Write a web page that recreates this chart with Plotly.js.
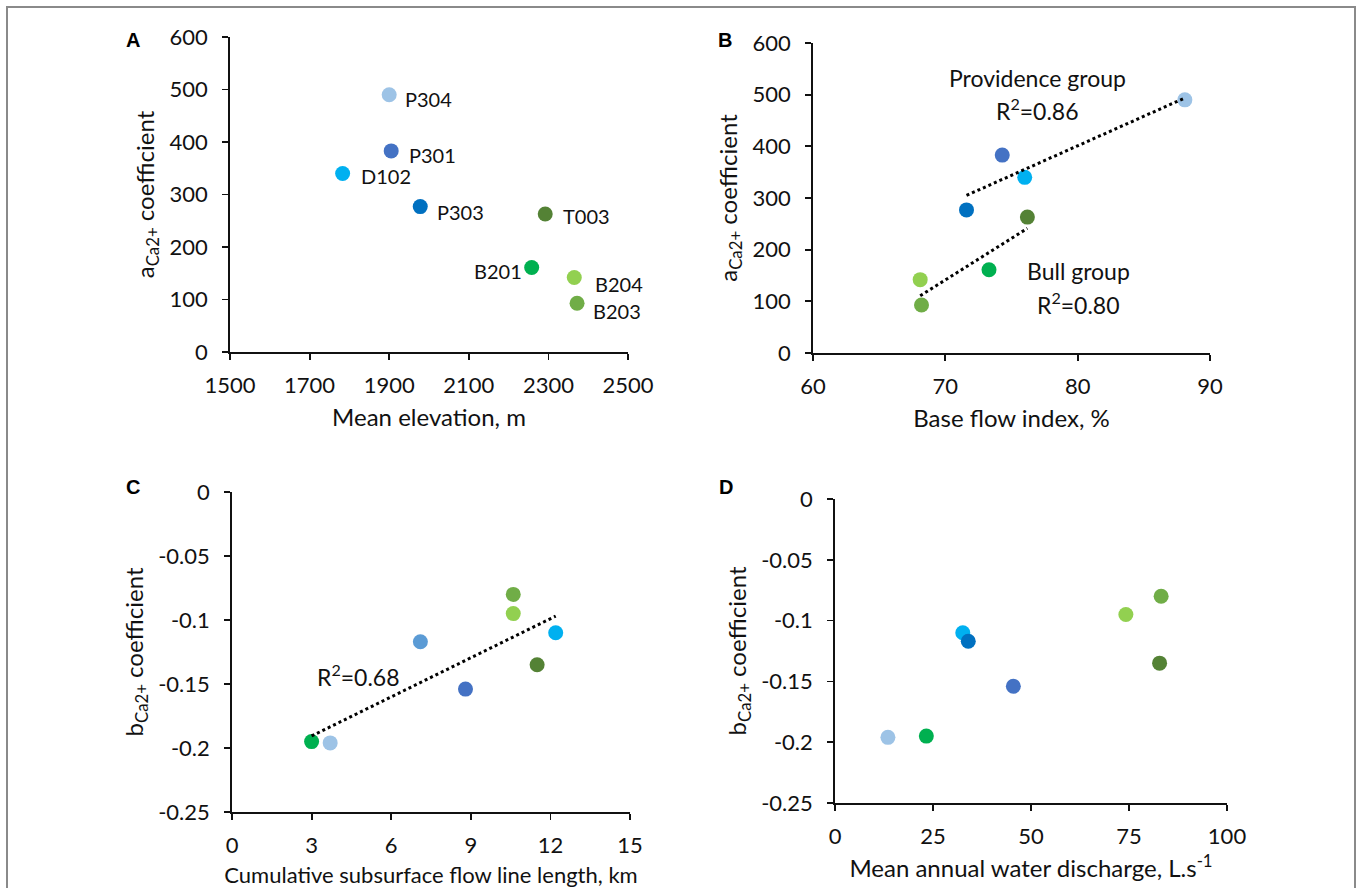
<!DOCTYPE html>
<html>
<head>
<meta charset="utf-8">
<script src="https://cdn.plot.ly/plotly-3.0.1.min.js"></script>
<style>
  html, body { margin: 0; padding: 0; background: #fff; }
  #chart { width: 1358px; height: 888px; }
</style>
</head>
<body>
<div id="chart"></div>
<script>
// Sampling sites and their catchment descriptors
const sites      = ['P304', 'P301', 'D102', 'P303', 'T003', 'B201', 'B204', 'B203'];
const elevation  = [1900, 1905, 1783, 1978, 2292, 2258, 2365, 2372];   // m
const aCoef      = [490, 383, 340, 277, 263, 161, 142, 93];
const baseFlow   = [88.1, 74.3, 76.0, 71.6, 76.2, 73.3, 68.1, 68.2];   // %
const flowLength = [3.7, 8.8, 12.2, 7.1, 11.5, 3.0, 10.6, 10.6];       // km
const bCoef      = [-0.196, -0.154, -0.110, -0.117, -0.135, -0.195, -0.095, -0.080];
const discharge  = [13.5, 45.5, 32.6, 34.0, 82.8, 23.3, 74.2, 83.2];   // L/s

const providence = ['P304', 'P301', 'D102', 'P303'];
const bull       = ['T003', 'B201', 'B204', 'B203'];

const siteColors  = ['#9DC3E6', '#4472C4', '#00B0F0', '#0070C0', '#548235', '#00B050', '#92D050', '#70AD47'];
const siteColorsC = ['#9DC3E6', '#4472C4', '#00B0F0', '#5B9BD5', '#548235', '#00B050', '#92D050', '#70AD47'];

const aTicks = [0, 100, 200, 300, 400, 500, 600];
const bTicks = [0, -0.05, -0.1, -0.15, -0.2, -0.25];
const bTickText = ['0', '-0.05', '-0.1', '-0.15', '-0.2', '-0.25'];

const r2Texts = { providence: 'R<sup>2</sup>=0.86', bull: 'R<sup>2</sup>=0.80', flow: 'R<sup>2</sup>=0.68' };

// Site label offsets in panel A (pixels)
const labelShift = {
  P304: [14, -4, 'left'], P301: [16, -4, 'left'], D102: [16, -3, 'left'], P303: [15, -5, 'left'],
  T003: [16, -2, 'left'], B201: [-8, -4, 'right'], B204: [19, -7, 'left'], B203: [14, -8, 'left']
};

const FONT = 'Lato, "Open Sans", sans-serif';
const W = 1358, H = 888;

// least-squares line through a subset of points, spanning its x range
function fitLine(xs, ys) {
  const n = xs.length;
  const mx = xs.reduce((a, b) => a + b, 0) / n;
  const my = ys.reduce((a, b) => a + b, 0) / n;
  let sxy = 0, sxx = 0;
  for (let i = 0; i < n; i++) { sxy += (xs[i] - mx) * (ys[i] - my); sxx += (xs[i] - mx) ** 2; }
  const k = sxy / sxx, c = my - k * mx;
  const x0 = Math.min(...xs), x1 = Math.max(...xs);
  return { x: [x0, x1], y: [k * x0 + c, k * x1 + c] };
}
function pick(arr, names) { return names.map(n => arr[sites.indexOf(n)]); }

function markers(xs, ys, colors, xa, ya) {
  return { type: 'scatter', mode: 'markers', x: xs, y: ys, xaxis: xa, yaxis: ya,
    marker: { size: 15, color: colors, line: { width: 0 } }, hoverinfo: 'x+y', text: sites, showlegend: false };
}
function trend(fit, xa, ya) {
  return { type: 'scatter', mode: 'lines', x: fit.x, y: fit.y, xaxis: xa, yaxis: ya,
    line: { color: '#000', width: 3, dash: 'dot' }, hoverinfo: 'skip', showlegend: false };
}

const fitProv = fitLine(pick(baseFlow, providence), pick(aCoef, providence));
const fitBull = fitLine(pick(baseFlow, bull), pick(aCoef, bull));
const fitFlow = fitLine(flowLength, bCoef);

const data = [
  markers(elevation, aCoef, siteColors, 'x', 'y'),
  markers(baseFlow, aCoef, siteColors, 'x2', 'y2'),
  trend(fitProv, 'x2', 'y2'),
  trend(fitBull, 'x2', 'y2'),
  markers(flowLength, bCoef, siteColorsC, 'x3', 'y3'),
  trend(fitFlow, 'x3', 'y3'),
  markers(discharge, bCoef, siteColors, 'x4', 'y4')
];

const dx = (a, b) => [a / W, b / W];
const dy = (top, bottom) => [1 - bottom / H, 1 - top / H];

const tickFont = { family: FONT, size: 22, color: '#111' };
const titleFont = { family: FONT, size: 24, color: '#111' };

function xAxis(domain, range, dtick, title, anchor, tfont) {
  return { domain, range, dtick, tick0: range[0], anchor,
    showline: true, linecolor: '#111', linewidth: 1.8, mirror: false,
    ticks: 'outside', ticklen: 6, tickwidth: 1.8, tickcolor: '#111',
    showgrid: false, zeroline: false, tickfont: tickFont, ticklabelstandoff: 7,
    title: { text: title, font: tfont || titleFont, standoff: 12 } };
}
function yAxis(domain, range, extra, title, anchor) {
  return Object.assign({ domain, range, anchor,
    showline: true, linecolor: '#111', linewidth: 1.8,
    ticks: 'outside', ticklen: 6, tickwidth: 1.8, tickcolor: '#111',
    showgrid: false, zeroline: false, tickfont: tickFont, ticklabelstandoff: 10,
    title: { text: title, font: titleFont, standoff: 8 } }, extra);
}

const aTitle = 'a<sub>Ca2+</sub> coefficient';
const bTitle = 'b<sub>Ca2+</sub> coefficient';

const annotations = [];
// panel letters
[['A', 133, 40], ['B', 725, 40], ['C', 133, 487], ['D', 726, 487]].forEach(([t, px, py]) => {
  annotations.push({ text: '<b>' + t + '</b>', xref: 'paper', yref: 'paper', x: px / W, y: 1 - py / H,
    xanchor: 'center', yanchor: 'middle', showarrow: false,
    font: { family: 'Liberation Sans, Arial, sans-serif', size: 20, color: '#000' } });
});
// site labels on panel A
sites.forEach((s, i) => {
  const [sx, sy, anchor] = labelShift[s];
  annotations.push({ text: s, xref: 'x', yref: 'y', x: elevation[i], y: aCoef[i],
    xanchor: anchor, yanchor: 'middle', xshift: sx, yshift: sy, showarrow: false,
    font: { family: FONT, size: 20, color: '#111' } });
});
// group labels on panel B
const groupNotes = [
  ['Providence group', 77.0, 533], [r2Texts.providence, 77.0, 471],
  ['Bull group', 80.1, 159], [r2Texts.bull, 80.1, 95]
];
groupNotes.forEach(([t, x, y]) => annotations.push({ text: t, xref: 'x2', yref: 'y2', x, y,
  xanchor: 'center', yanchor: 'middle', showarrow: false, font: { family: FONT, size: 23, color: '#111' } }));
annotations.push({ text: r2Texts.flow, xref: 'x3', yref: 'y3', x: 4.75, y: -0.143,
  xanchor: 'center', yanchor: 'middle', showarrow: false, font: { family: FONT, size: 23, color: '#111' } });

const layout = {
  width: W, height: H,
  margin: { l: 0, r: 0, t: 0, b: 0 },
  paper_bgcolor: '#fff', plot_bgcolor: 'rgba(0,0,0,0)',
  font: { family: FONT, color: '#111' },
  showlegend: false,
  xaxis:  xAxis(dx(230, 628), [1500, 2500], 200, 'Mean elevation, m', 'y'),
  yaxis:  yAxis(dy(37, 352), [0, 600], { tickvals: aTicks }, aTitle, 'x'),
  xaxis2: xAxis(dx(813, 1210), [60, 90], 10, 'Base flow index, %', 'y2'),
  yaxis2: yAxis(dy(43, 353), [0, 600], { tickvals: aTicks }, aTitle, 'x2'),
  xaxis3: xAxis(dx(232, 630), [0, 15], 3, 'Cumulative subsurface flow line length, km', 'y3',
                { family: FONT, size: 22, color: '#111' }),
  yaxis3: yAxis(dy(492, 812), [-0.25, 0], { tickvals: bTicks, ticktext: bTickText }, bTitle, 'x3'),
  xaxis4: xAxis(dx(835, 1227), [0, 100], 25, 'Mean annual water discharge, L.s<sup>-1</sup>', 'y4'),
  yaxis4: yAxis(dy(499, 803), [-0.25, 0], { tickvals: bTicks, ticktext: bTickText }, bTitle, 'x4'),
  annotations,
  shapes: [{ type: 'rect', xref: 'paper', yref: 'paper', x0: 7 / W, x1: 1355 / W, y0: -0.05, y1: 1 - 7 / H,
    line: { color: '#8a8a8a', width: 2 }, fillcolor: 'rgba(0,0,0,0)', layer: 'below' }]
};

Plotly.newPlot('chart', data, layout, { displayModeBar: false, staticPlot: true });
</script>
</body>
</html>
